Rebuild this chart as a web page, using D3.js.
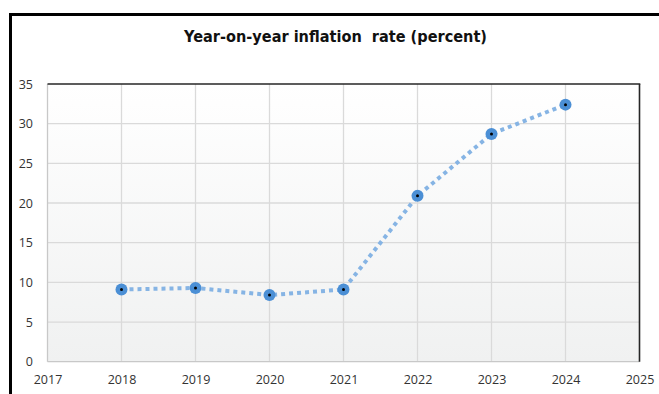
<!DOCTYPE html>
<html>
<head>
<meta charset="utf-8">
<script src="https://cdn.jsdelivr.net/npm/d3@7"></script>
<style>
  html, body { margin: 0; padding: 0; background: #fff; }
  svg { display: block; }
</style>
</head>
<body>
<svg id="chart" width="659" height="394"></svg>
<script>
// Year-on-year inflation, annual values
const years = [2018, 2019, 2020, 2021, 2022, 2023, 2024];
const inflation = [9.1, 9.3, 8.4, 9.1, 20.9, 28.7, 32.4];
const xTicks = [2017, 2018, 2019, 2020, 2021, 2022, 2023, 2024, 2025];
const yTicks = [0, 5, 10, 15, 20, 25, 30, 35];
const chartTitle = "Year-on-year inflation  rate (percent)";

const svg = d3.select("#chart");
const W = 659, H = 394;
const plot = { left: 47.5, right: 639.5, top: 84, bottom: 361.7 };

const x = d3.scaleLinear().domain([2017, 2025]).range([plot.left, plot.right]);
const y = d3.scaleLinear().domain([0, 35]).range([plot.bottom, plot.top]);

// background gradient of the plot area
const defs = svg.append("defs");
const grad = defs.append("linearGradient").attr("id", "plotBg")
  .attr("x1", 0).attr("y1", 0).attr("x2", 0).attr("y2", 1);
grad.append("stop").attr("offset", "0%").attr("stop-color", "#ffffff");
grad.append("stop").attr("offset", "100%").attr("stop-color", "#f0f1f1");

// outer frame (top and left edges)
svg.append("line").attr("x1", 10.5).attr("x2", W).attr("y1", 14.5).attr("y2", 14.5)
  .attr("stroke", "#000").attr("stroke-width", 3);
svg.append("line").attr("x1", 10.5).attr("x2", 10.5).attr("y1", 13).attr("y2", H)
  .attr("stroke", "#000").attr("stroke-width", 3);

// title
svg.append("text")
  .attr("x", 335.5).attr("y", 42)
  .attr("text-anchor", "middle")
  .attr("font-family", "'DejaVu Sans', Verdana, sans-serif")
  .attr("font-weight", "bold")
  .attr("font-size", 15)
  .attr("fill", "#111")
  .attr("textLength", 303)
  .attr("lengthAdjust", "spacingAndGlyphs")
  .style("white-space", "pre")
  .text(chartTitle);

// plot area
svg.append("rect")
  .attr("x", plot.left).attr("y", plot.top)
  .attr("width", plot.right - plot.left).attr("height", plot.bottom - plot.top)
  .attr("fill", "url(#plotBg)");

// grid
const grid = svg.append("g").attr("stroke", "#dadada").attr("stroke-width", 1.3);
grid.selectAll("line.v").data(xTicks.slice(1, -1)).join("line")
  .attr("x1", d => x(d)).attr("x2", d => x(d))
  .attr("y1", plot.top).attr("y2", plot.bottom);
grid.selectAll("line.h").data(yTicks.slice(1, -1)).join("line")
  .attr("x1", plot.left).attr("x2", plot.right)
  .attr("y1", d => y(d)).attr("y2", d => y(d));

// axes lines: left/bottom light, top/right dark
svg.append("line").attr("x1", plot.left).attr("x2", plot.left)
  .attr("y1", plot.top).attr("y2", plot.bottom).attr("stroke", "#c8c8c8").attr("stroke-width", 1.3);
svg.append("line").attr("x1", plot.left).attr("x2", plot.right)
  .attr("y1", plot.bottom).attr("y2", plot.bottom).attr("stroke", "#c8c8c8").attr("stroke-width", 1.3);
svg.append("line").attr("x1", plot.left).attr("x2", plot.right + 0.8)
  .attr("y1", plot.top).attr("y2", plot.top).attr("stroke", "#262626").attr("stroke-width", 1.6);
svg.append("line").attr("x1", plot.right).attr("x2", plot.right)
  .attr("y1", plot.top).attr("y2", plot.bottom).attr("stroke", "#262626").attr("stroke-width", 1.6);

// axis labels via d3 axes
const xAxis = d3.axisBottom(x).tickValues(xTicks).tickFormat(d3.format("d")).tickSize(0).tickPadding(13);
const yAxis = d3.axisLeft(y).tickValues(yTicks).tickFormat(d3.format("d")).tickSize(0).tickPadding(14.5);

const gx = svg.append("g").attr("transform", `translate(0,${plot.bottom})`).call(xAxis);
const gy = svg.append("g").attr("transform", `translate(${plot.left},0)`).call(yAxis);
[gx, gy].forEach(g => {
  g.select(".domain").remove();
  g.selectAll("text")
    .attr("font-family", "'Open Sans', sans-serif")
    .attr("font-size", 12.5)
    .attr("fill", "#333");
});

// dotted series line
const line = d3.line().x((d, i) => x(years[i])).y(d => y(d));
svg.append("path")
  .datum(inflation)
  .attr("d", line)
  .attr("fill", "none")
  .attr("stroke", "#86b4e4")
  .attr("stroke-width", 4)
  .attr("stroke-dasharray", "4,4");

// markers
const pts = svg.append("g").selectAll("g").data(inflation).join("g")
  .attr("transform", (d, i) => `translate(${x(years[i])},${y(d)})`);
pts.append("circle").attr("r", 6).attr("fill", "#4b8fd5");
pts.append("circle").attr("r", 1.5).attr("fill", "#000");
</script>
</body>
</html>
